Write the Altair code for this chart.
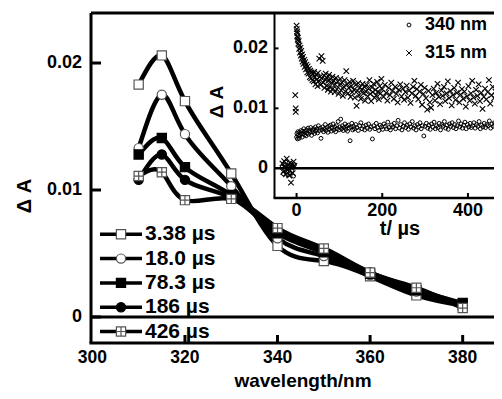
import altair as alt
import pandas as pd

# ---------------- main panel: transient spectra ----------------
wavelength_nm = [310, 315, 320, 330, 340, 350, 360, 370, 380]
delay_labels = ["3.38 µs", "18.0 µs", "78.3 µs", "186 µs", "426 µs"]
dA_3_38us = [0.0183, 0.0206, 0.0170, 0.0113, 0.0056, 0.0044, 0.0032, 0.0017, 0.0009]
dA_18_0us = [0.0133, 0.0175, 0.0144, 0.0103, 0.0062, 0.0048, 0.0033, 0.0020, 0.0010]
dA_78_3us = [0.0128, 0.0141, 0.0118, 0.0096, 0.0066, 0.0051, 0.0034, 0.0021, 0.0011]
dA_186us = [0.0108, 0.0128, 0.0108, 0.0094, 0.0068, 0.0052, 0.0035, 0.0022, 0.0010]
dA_426us = [0.0111, 0.0114, 0.0092, 0.0093, 0.0070, 0.0054, 0.0035, 0.0023, 0.0007]
main_xticks = [300, 320, 340, 360, 380]
main_yticks = [0, 0.01, 0.02]
main_xtitle = "wavelength/nm"
main_ytitle = "Δ A"

# ---------------- inset: kinetic traces (t in µs, ΔA) ----------------
inset_labels = ["340 nm", "315 nm"]
inset_xticks = [0, 200, 400]
inset_yticks = [0, 0.01, 0.02]
inset_xtitle = "t/ µs"
inset_ytitle = "Δ A"
trace_315nm = [
    (-33, 0.0008), (-31, -0.0006), (-29, 0.0012), (-27, 0.0002), (-25, -0.0010), (-23, 0.0016),
    (-21, -0.0003), (-19, 0.0005), (-17, -0.0012), (-15, 0.0009), (-13, -0.0024), (-11, 0.0003),
    (-9, -0.0008), (-7, 0.0011), (-5, 0.0004), (-3, 0.0122), (-2, 0.0100), (-2, 0.0094),
    (0, 0.0238), (0.5, 0.0232), (1, 0.0228), (1.5, 0.0220), (2, 0.0225), (2.5, 0.0214), (3, 0.0218),
    (4, 0.0208), (5, 0.0212), (6, 0.0199), (7, 0.0205), (8, 0.0193), (9, 0.0201), (10, 0.0188),
    (11, 0.0196), (12, 0.0183), (13, 0.0190), (14, 0.0178), (15, 0.0186), (16, 0.0174), (18, 0.0181),
    (19, 0.0169), (20, 0.0177), (22, 0.0165), (23, 0.0173), (25, 0.0160), (26, 0.0170), (28, 0.0158),
    (29, 0.0166), (31, 0.0152), (32, 0.0163), (34, 0.0150), (35, 0.0160), (37, 0.0147), (38, 0.0157),
    (40, 0.0145), (41, 0.0161), (43, 0.0152), (44, 0.0140), (46, 0.0156), (47, 0.0148), (49, 0.0137),
    (50, 0.0159), (52, 0.0146), (53, 0.0183), (55, 0.0153), (56, 0.0139), (58, 0.0187), (59, 0.0150),
    (61, 0.0179), (62, 0.0143), (64, 0.0155), (65, 0.0134), (67, 0.0148), (68, 0.0158), (70, 0.0138),
    (71, 0.0151), (73, 0.0131), (74, 0.0146), (76, 0.0156), (77, 0.0136), (79, 0.0149), (80, 0.0128),
    (82, 0.0143), (84, 0.0153), (85, 0.0133), (87, 0.0146), (89, 0.0127), (90, 0.0140), (92, 0.0151),
    (94, 0.0132), (96, 0.0145), (98, 0.0124), (100, 0.0139), (102, 0.0149), (104, 0.0130), (106, 0.0143),
    (108, 0.0121), (110, 0.0136), (112, 0.0147), (114, 0.0128), (116, 0.0162), (118, 0.0140),
    (120, 0.0125), (122, 0.0134), (124, 0.0144), (126, 0.0119), (128, 0.0137), (130, 0.0127),
    (132, 0.0146), (134, 0.0131), (136, 0.0118), (138, 0.0139), (140, 0.0104), (142, 0.0129),
    (144, 0.0142), (146, 0.0122), (148, 0.0135), (150, 0.0116), (152, 0.0131), (154, 0.0141),
    (156, 0.0125), (158, 0.0136), (160, 0.0113), (162, 0.0128), (164, 0.0139), (166, 0.0120),
    (168, 0.0133), (170, 0.0147), (172, 0.0124), (174, 0.0112), (176, 0.0135), (178, 0.0127),
    (180, 0.0141), (182, 0.0118), (184, 0.0131), (186, 0.0122), (188, 0.0144), (190, 0.0128),
    (192, 0.0115), (194, 0.0137), (196, 0.0125), (198, 0.0149), (200, 0.0132), (203, 0.0119),
    (206, 0.0139), (209, 0.0126), (212, 0.0113), (215, 0.0134), (218, 0.0122), (221, 0.0143),
    (224, 0.0129), (227, 0.0116), (230, 0.0136), (233, 0.0124), (236, 0.0110), (239, 0.0131),
    (242, 0.0140), (245, 0.0120), (248, 0.0133), (251, 0.0114), (254, 0.0127), (257, 0.0138),
    (260, 0.0118), (263, 0.0130), (266, 0.0109), (269, 0.0125), (272, 0.0136), (275, 0.0146),
    (278, 0.0121), (281, 0.0132), (284, 0.0115), (287, 0.0128), (290, 0.0139), (293, 0.0106),
    (296, 0.0124), (299, 0.0134), (302, 0.0117), (305, 0.0098), (308, 0.0129), (311, 0.0110),
    (314, 0.0101), (317, 0.0122), (320, 0.0133), (323, 0.0113), (326, 0.0126), (329, 0.0141),
    (332, 0.0119), (335, 0.0107), (338, 0.0130), (341, 0.0121), (344, 0.0136), (347, 0.0112),
    (350, 0.0125), (353, 0.0145), (356, 0.0117), (359, 0.0129), (362, 0.0105), (365, 0.0122),
    (368, 0.0134), (371, 0.0114), (374, 0.0126), (377, 0.0143), (380, 0.0110), (383, 0.0123),
    (386, 0.0132), (389, 0.0116), (392, 0.0128), (395, 0.0103), (398, 0.0120), (401, 0.0137),
    (404, 0.0113), (407, 0.0125), (410, 0.0146), (413, 0.0118), (416, 0.0108), (419, 0.0131),
    (422, 0.0121), (425, 0.0140), (428, 0.0112), (431, 0.0126), (434, 0.0099), (437, 0.0119),
    (440, 0.0133), (443, 0.0115), (446, 0.0127), (449, 0.0147), (452, 0.0108), (455, 0.0122),
    (458, 0.0136), (461, 0.0117), (464, 0.0128), (467, 0.0101), (470, 0.0124),
]
trace_340nm = [
    (-33, 0.0003), (-31, -0.0009), (-29, 0.0006), (-27, -0.0002), (-25, 0.0010), (-23, -0.0005),
    (-21, -0.0011), (-19, 0.0004), (-17, 0.0001), (-15, -0.0007), (-13, 0.0008), (-11, -0.0004),
    (-9, 0.0002), (-7, -0.0013), (-5, 0.0006),
    (0, 0.0052), (1, 0.0058), (2, 0.0049), (3, 0.0061), (4, 0.0055), (6, 0.0050), (7, 0.0060),
    (8, 0.0054), (10, 0.0063), (11, 0.0057), (13, 0.0052), (14, 0.0062), (16, 0.0058), (17, 0.0066),
    (19, 0.0056), (20, 0.0061), (22, 0.0054), (23, 0.0064), (25, 0.0059), (27, 0.0067), (28, 0.0057),
    (30, 0.0063), (32, 0.0060), (33, 0.0068), (35, 0.0055), (37, 0.0064), (38, 0.0061), (40, 0.0066),
    (42, 0.0058), (44, 0.0069), (45, 0.0062), (47, 0.0065), (49, 0.0059), (51, 0.0071), (53, 0.0063),
    (55, 0.0067), (57, 0.0050), (59, 0.0064), (61, 0.0069), (63, 0.0061), (65, 0.0066), (67, 0.0073),
    (69, 0.0063), (71, 0.0068), (73, 0.0060), (75, 0.0070), (77, 0.0065), (79, 0.0072), (81, 0.0062),
    (83, 0.0067), (85, 0.0074), (87, 0.0064), (89, 0.0069), (91, 0.0061), (93, 0.0071), (95, 0.0066),
    (97, 0.0078), (99, 0.0064), (101, 0.0069), (103, 0.0082), (105, 0.0066), (107, 0.0071),
    (109, 0.0063), (111, 0.0068), (113, 0.0074), (115, 0.0065), (117, 0.0070), (119, 0.0062),
    (121, 0.0072), (123, 0.0067), (125, 0.0046), (127, 0.0069), (129, 0.0075), (131, 0.0064),
    (133, 0.0070), (135, 0.0066), (138, 0.0073), (141, 0.0068), (144, 0.0063), (147, 0.0071),
    (150, 0.0076), (153, 0.0066), (156, 0.0070), (159, 0.0064), (162, 0.0072), (165, 0.0067),
    (168, 0.0074), (171, 0.0065), (174, 0.0069), (177, 0.0049), (180, 0.0071), (183, 0.0066),
    (186, 0.0075), (189, 0.0068), (192, 0.0063), (195, 0.0072), (198, 0.0069), (201, 0.0065),
    (204, 0.0074), (207, 0.0070), (210, 0.0066), (213, 0.0077), (216, 0.0068), (219, 0.0064),
    (222, 0.0072), (225, 0.0069), (228, 0.0075), (231, 0.0066), (234, 0.0071), (237, 0.0080),
    (240, 0.0067), (243, 0.0073), (246, 0.0064), (249, 0.0070), (252, 0.0076), (255, 0.0068),
    (258, 0.0072), (261, 0.0065), (264, 0.0074), (267, 0.0069), (270, 0.0078), (273, 0.0067),
    (276, 0.0071), (279, 0.0064), (282, 0.0073), (285, 0.0069), (288, 0.0076), (291, 0.0066),
    (294, 0.0071), (297, 0.0054), (300, 0.0070), (303, 0.0075), (306, 0.0067), (309, 0.0072),
    (312, 0.0065), (315, 0.0074), (318, 0.0069), (321, 0.0077), (324, 0.0066), (327, 0.0071),
    (330, 0.0068), (333, 0.0075), (336, 0.0064), (339, 0.0073), (342, 0.0070), (345, 0.0078),
    (348, 0.0067), (351, 0.0072), (354, 0.0065), (357, 0.0074), (360, 0.0070), (363, 0.0076),
    (366, 0.0068), (369, 0.0073), (372, 0.0066), (375, 0.0071), (378, 0.0079), (381, 0.0069),
    (384, 0.0074), (387, 0.0067), (390, 0.0072), (393, 0.0077), (396, 0.0066), (399, 0.0073),
    (402, 0.0069), (405, 0.0075), (408, 0.0068), (411, 0.0071), (414, 0.0076), (417, 0.0067),
    (420, 0.0073), (423, 0.0070), (426, 0.0078), (429, 0.0066), (432, 0.0072), (435, 0.0069),
    (438, 0.0075), (441, 0.0068), (444, 0.0073), (447, 0.0071), (450, 0.0079), (453, 0.0067),
    (456, 0.0074), (459, 0.0070), (462, 0.0076), (465, 0.0069), (468, 0.0073),
]

# ---------------- layout / style ----------------
W, H = 403, 330
FONT = "Liberation Sans"
INSET_L, INSET_B = 183.5, 185
TXT = dict(font=FONT, fontWeight="bold", color="black")

x_main = alt.Scale(domain=[299.7, 386.77], nice=False, zero=False)
y_main = alt.Scale(domain=[-0.00205, 0.02394], nice=False, zero=False)
x_in = alt.Scale(domain=[-51.5, 460.8], range=[INSET_L, W], nice=False, zero=False)
y_in = alt.Scale(domain=[-0.00495, 0.0259], range=[INSET_B, 0], nice=False, zero=False)

SQUARE_PLUS = "M-1,-1H1V1H-1Z M0,-1V1 M-1,0H1"
X_SHAPE = "M-1,-1L1,1M-1,1L1,-1"
styles = {
    "3.38 µs": dict(shape="square", fill="white", stroke="#555555"),
    "18.0 µs": dict(shape="circle", fill="white", stroke="#555555"),
    "78.3 µs": dict(shape="square", fill="black", stroke="black"),
    "186 µs": dict(shape="circle", fill="black", stroke="black"),
    "426 µs": dict(shape=SQUARE_PLUS, fill="white", stroke="#555555"),
}
spectra = [dA_3_38us, dA_18_0us, dA_78_3us, dA_186us, dA_426us]


def hrule(y, x1, x2, w):
    return alt.Chart(pd.DataFrame({"k": [0]})).mark_rule(color="black", strokeWidth=w).encode(
        x=alt.value(x1), x2=alt.value(x2), y=alt.value(y))


def vrule(x, y1, y2, w):
    return alt.Chart(pd.DataFrame({"k": [0]})).mark_rule(color="black", strokeWidth=w).encode(
        y=alt.value(y1), y2=alt.value(y2), x=alt.value(x))


def label_text(text, x, y, size, angle=0, align="center", baseline="alphabetic"):
    return alt.Chart(pd.DataFrame({"label": [text]})).mark_text(
        align=align, baseline=baseline, fontSize=size, angle=angle, **TXT).encode(
        x=alt.value(x), y=alt.value(y), text="label:N")


main_layers = []
# frame
main_layers += [hrule(0, 0, W, 3), hrule(H, -1.5, W, 3), vrule(0, 0, H, 3)]
# curves and symbols
for label, vals in zip(delay_labels, spectra):
    df = pd.DataFrame({"wavelength": wavelength_nm, "dA": vals})
    main_layers.append(
        alt.Chart(df).mark_line(interpolate="natural", color="black", strokeWidth=4.5).encode(
            x=alt.X("wavelength:Q", scale=x_main, axis=None),
            y=alt.Y("dA:Q", scale=y_main, axis=None)))
for label, vals in zip(delay_labels, spectra):
    df = pd.DataFrame({"wavelength": wavelength_nm, "dA": vals})
    main_layers.append(
        alt.Chart(df).mark_point(filled=True, opacity=1, size=85, strokeWidth=1.2, **styles[label]).encode(
            x=alt.X("wavelength:Q", scale=x_main, axis=None),
            y=alt.Y("dA:Q", scale=y_main, axis=None)))
# zero line
main_layers.append(alt.Chart(pd.DataFrame({"dA": [0]})).mark_rule(color="black", strokeWidth=3).encode(
    y=alt.Y("dA:Q", scale=y_main, axis=None), x=alt.value(0), x2=alt.value(W)))
# inward ticks
main_layers.append(alt.Chart(pd.DataFrame({"wavelength": main_xticks[1:]})).mark_rule(
    color="black", strokeWidth=3).encode(
    x=alt.X("wavelength:Q", scale=x_main, axis=None), y=alt.value(H), y2=alt.value(H - 8)))
main_layers.append(alt.Chart(pd.DataFrame({"dA": main_yticks})).mark_rule(
    color="black", strokeWidth=3).encode(
    y=alt.Y("dA:Q", scale=y_main, axis=None), x=alt.value(0), x2=alt.value(10)))
# tick labels
main_layers.append(alt.Chart(pd.DataFrame({"wavelength": main_xticks})).mark_text(
    align="center", baseline="top", fontSize=17.5, **TXT).encode(
    x=alt.X("wavelength:Q", scale=x_main, axis=None), y=alt.value(H + 6),
    text=alt.Text("wavelength:Q", format="d")))
main_layers.append(alt.Chart(pd.DataFrame({"dA": main_yticks})).mark_text(
    align="right", baseline="middle", fontSize=18, **TXT).encode(
    y=alt.Y("dA:Q", scale=y_main, axis=None), x=alt.value(-9),
    text=alt.Text("dA:Q", format="~g")))
# axis titles
main_layers.append(label_text(main_xtitle, 212, 374, 19))
main_layers.append(label_text(main_ytitle, -66, 183, 20, angle=270, baseline="middle"))

# legend of the main panel
for i, label in enumerate(delay_labels):
    ly = 221.3 + 24.3 * i
    d = pd.DataFrame({"label": [label]})
    main_layers.append(alt.Chart(d).mark_rule(color="black", strokeWidth=3.5).encode(
        x=alt.value(9), x2=alt.value(51), y=alt.value(ly)))
    main_layers.append(alt.Chart(d).mark_point(filled=True, opacity=1, size=85, strokeWidth=1.2,
                                               **styles[label]).encode(x=alt.value(30), y=alt.value(ly)))
    main_layers.append(alt.Chart(d).mark_text(align="left", baseline="middle", fontSize=21, **TXT).encode(
        x=alt.value(54), y=alt.value(ly), text="label:N"))

main = alt.layer(*main_layers)

# ---------------- inset ----------------
df315 = pd.DataFrame(trace_315nm, columns=["t", "dA"])
df340 = pd.DataFrame(trace_340nm, columns=["t", "dA"])

inset_layers = [
    vrule(INSET_L, 0, INSET_B, 2),
    hrule(INSET_B, INSET_L - 1, W, 2.5),
    alt.Chart(df340).mark_point(shape="circle", size=15, filled=False, stroke="black", strokeWidth=1.0,
                                opacity=1).encode(
        x=alt.X("t:Q", scale=x_in, axis=None),
        y=alt.Y("dA:Q", scale=y_in, axis=None)),
    alt.Chart(df315).mark_point(shape=X_SHAPE, size=30, filled=False, stroke="black", strokeWidth=1.1,
                                opacity=1).encode(
        x=alt.X("t:Q", scale=x_in, axis=None),
        y=alt.Y("dA:Q", scale=y_in, axis=None)),
    alt.Chart(pd.DataFrame({"dA": [0]})).mark_rule(color="black", strokeWidth=2.5).encode(
        y=alt.Y("dA:Q", scale=y_in, axis=None), x=alt.value(INSET_L), x2=alt.value(W)),
    alt.Chart(pd.DataFrame({"t": inset_xticks})).mark_rule(color="black", strokeWidth=2).encode(
        x=alt.X("t:Q", scale=x_in, axis=None), y=alt.value(INSET_B), y2=alt.value(INSET_B - 5)),
    alt.Chart(pd.DataFrame({"dA": inset_yticks[1:]})).mark_rule(color="black", strokeWidth=2).encode(
        y=alt.Y("dA:Q", scale=y_in, axis=None), x=alt.value(INSET_L), x2=alt.value(INSET_L + 4)),
    alt.Chart(pd.DataFrame({"t": inset_xticks})).mark_text(
        align="center", baseline="top", fontSize=18, **TXT).encode(
        x=alt.X("t:Q", scale=x_in, axis=None), y=alt.value(INSET_B + 4),
        text=alt.Text("t:Q", format="d")),
    alt.Chart(pd.DataFrame({"dA": inset_yticks})).mark_text(
        align="right", baseline="middle", fontSize=18, **TXT).encode(
        y=alt.Y("dA:Q", scale=y_in, axis=None), x=alt.value(INSET_L - 6.5),
        text=alt.Text("dA:Q", format="~g")),
    label_text(inset_xtitle, 309, 222, 20),
    label_text(inset_ytitle, 126, 89, 19, angle=270, baseline="middle"),
]
legend_shapes = {"340 nm": dict(shape="circle", size=15), "315 nm": dict(shape=X_SHAPE, size=30)}
for i, label in enumerate(inset_labels):
    ly = 12 + 28 * i
    d = pd.DataFrame({"label": [label]})
    inset_layers.append(alt.Chart(d).mark_point(filled=False, stroke="black", strokeWidth=1.0, opacity=1,
                                                **legend_shapes[label]).encode(
        x=alt.value(318), y=alt.value(ly)))
    inset_layers.append(alt.Chart(d).mark_text(align="left", baseline="middle", fontSize=18, **TXT).encode(
        x=alt.value(334), y=alt.value(ly), text="label:N"))

inset = alt.layer(*inset_layers)

chart = alt.layer(main, inset).resolve_scale(x="independent", y="independent").properties(
    width=W, height=H,
    autosize=alt.AutoSizeParams(type="none"),
    padding={"left": 83, "top": 5, "right": 0, "bottom": 48},
).configure_view(strokeWidth=0)

chart.save("out.html", embed_options={"renderer": "svg", "actions": False})
